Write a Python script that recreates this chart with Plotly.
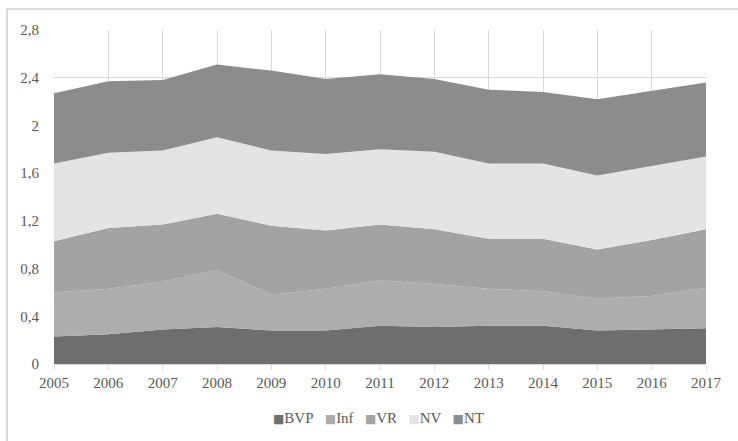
import plotly.graph_objects as go

years = [2005, 2006, 2007, 2008, 2009, 2010, 2011, 2012, 2013, 2014, 2015, 2016, 2017]

bvp = [0.23, 0.25, 0.29, 0.31, 0.28, 0.28, 0.32, 0.31, 0.32, 0.32, 0.28, 0.29, 0.30]
inf = [0.37, 0.38, 0.40, 0.48, 0.30, 0.35, 0.38, 0.36, 0.31, 0.29, 0.27, 0.28, 0.34]
vr = [0.43, 0.51, 0.48, 0.47, 0.58, 0.49, 0.47, 0.46, 0.42, 0.44, 0.41, 0.47, 0.49]
nv = [0.65, 0.63, 0.62, 0.64, 0.63, 0.64, 0.63, 0.65, 0.63, 0.63, 0.62, 0.62, 0.61]
nt = [0.59, 0.60, 0.59, 0.61, 0.67, 0.63, 0.63, 0.61, 0.62, 0.60, 0.64, 0.63, 0.62]

series_names = ["BVP", "Inf", "VR", "NV", "NT"]
series_values = [bvp, inf, vr, nv, nt]
series_colors = ["#6e6e6e", "#adadad", "#a3a3a3", "#e4e4e4", "#8c8c8c"]

y_ticks = [0, 0.4, 0.8, 1.2, 1.6, 2.0, 2.4, 2.8]
y_tick_text = ["0", "0,4", "0,8", "1,2", "1,6", "2", "2,4", "2,8"]

font_family = "Liberation Serif"
text_color = "#595959"

fig = go.Figure()
for name, vals, col in zip(series_names, series_values, series_colors):
    fig.add_trace(go.Scatter(
        x=years, y=vals, name=name, mode="lines",
        stackgroup="one", line=dict(width=0, color=col),
        fillcolor=col, showlegend=False,
    ))

# compact legend: small coloured square followed by the series name
legend_parts = [
    f"<span style='color:{col};font-family:DejaVu Sans;font-size:12px'>\u25a0</span>{name}"
    for name, col in zip(series_names, series_colors)
]
legend_text = "\u00a0\u00a0\u00a0".join(legend_parts)

fig.update_layout(
    width=738, height=441,
    margin=dict(l=54, r=32, t=30, b=77),
    paper_bgcolor="white", plot_bgcolor="white",
    font=dict(family=font_family, size=15, color=text_color),
    xaxis=dict(
        range=[2005, 2017], tickmode="array", tickvals=years,
        ticktext=[str(y) for y in years],
        showgrid=True, gridcolor="#d9d9d9", gridwidth=1,
        showline=True, linecolor="#d9d9d9", linewidth=1,
        ticks="outside", ticklen=5, tickcolor="#d9d9d9",
        zeroline=False, mirror=False,
    ),
    yaxis=dict(
        range=[0, 2.8], tickmode="array", tickvals=y_ticks, ticktext=y_tick_text,
        showgrid=True, gridcolor="#d9d9d9", gridwidth=1,
        showline=False, zeroline=False, ticks="", ticklabelstandoff=14,
    ),
    annotations=[
        dict(xref="paper", yref="paper", x=(378 - 54) / 652, y=-(418 - 364) / 334,
             xanchor="center", yanchor="middle", showarrow=False,
             text=legend_text, font=dict(family=font_family, size=15, color=text_color)),
    ],
    shapes=[
        dict(type="line", xref="paper", yref="paper",
             x0=-0.0721, x1=1.05, y0=1.0629, y1=1.0629,
             line=dict(color="#d9d9d9", width=2)),
        dict(type="line", xref="paper", yref="paper",
             x0=-0.0721, x1=-0.0721, y0=1.0629, y1=-0.24,
             line=dict(color="#d9d9d9", width=2)),
    ],
)

fig.write_html("out.html")
